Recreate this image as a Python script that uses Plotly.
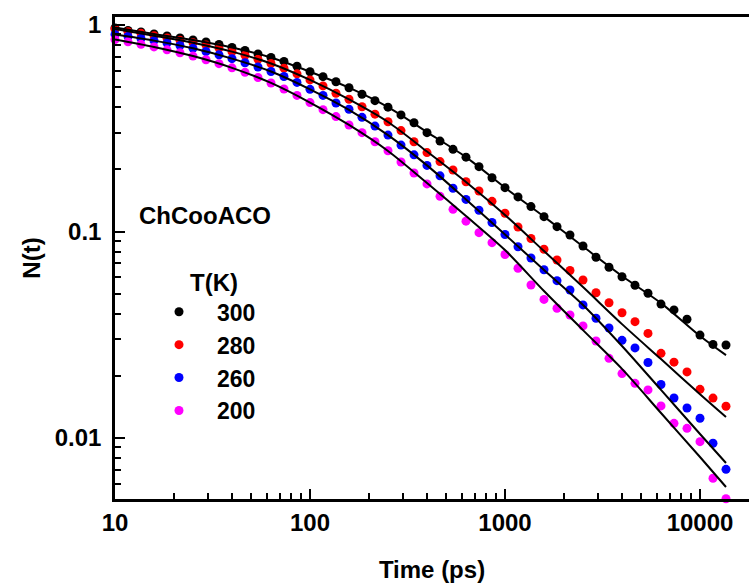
import plotly.graph_objects as go

# Time points (ps)
time_ps = [10.0, 11.66, 13.59, 15.85, 18.48, 21.54, 25.12, 29.29, 34.15, 39.81,
           46.42, 54.12, 63.10, 73.56, 85.77, 100.0, 116.6, 135.9, 158.5, 184.8,
           215.4, 251.2, 292.9, 341.5, 398.1, 464.2, 541.2, 631.0, 735.6, 857.7,
           1000, 1166, 1359, 1585, 1848, 2154, 2512, 2929, 3415, 3981,
           4642, 5412, 6310, 7356, 8577, 10000, 11659, 13594]

# Measured N(t) for each temperature
n_300 = [0.967, 0.940, 0.925, 0.905, 0.885, 0.865, 0.846, 0.827, 0.805, 0.778,
         0.752, 0.724, 0.696, 0.666, 0.631, 0.594, 0.562, 0.531, 0.497, 0.462,
         0.430, 0.400, 0.367, 0.336, 0.301, 0.274, 0.250, 0.229, 0.206, 0.182,
         0.163, 0.147, 0.132, 0.118, 0.1055, 0.0962, 0.0851, 0.0750, 0.0671, 0.0604,
         0.0549, 0.0502, 0.0445, 0.0417, 0.0376, 0.0315, 0.0284, 0.0282]
n_280 = [0.956, 0.928, 0.911, 0.888, 0.865, 0.843, 0.821, 0.799, 0.773, 0.743,
         0.714, 0.682, 0.651, 0.618, 0.580, 0.542, 0.507, 0.467, 0.437, 0.402,
         0.370, 0.340, 0.308, 0.272, 0.241, 0.218, 0.1986, 0.1742, 0.157, 0.140,
         0.1225, 0.1051, 0.0925, 0.0820, 0.0728, 0.0647, 0.0582, 0.0505, 0.0452, 0.0404,
         0.0366, 0.0321, 0.0257, 0.0233, 0.0209, 0.0172, 0.0156, 0.01424]
n_260 = [0.899, 0.880, 0.860, 0.840, 0.818, 0.796, 0.771, 0.744, 0.717, 0.687,
         0.656, 0.626, 0.595, 0.563, 0.527, 0.488, 0.456, 0.419, 0.391, 0.357,
         0.324, 0.293, 0.262, 0.235, 0.209, 0.186, 0.162, 0.143, 0.1267, 0.1106,
         0.0967, 0.0844, 0.0744, 0.0653, 0.0578, 0.0521, 0.0441, 0.0380, 0.0341, 0.0297,
         0.0273, 0.0232, 0.01816, 0.01562, 0.01397, 0.01246, 0.00943, 0.00705]
n_200 = [0.851, 0.829, 0.806, 0.783, 0.758, 0.734, 0.707, 0.679, 0.650, 0.620,
         0.590, 0.557, 0.524, 0.490, 0.456, 0.421, 0.389, 0.360, 0.328, 0.301,
         0.272, 0.246, 0.217, 0.192, 0.170, 0.148, 0.128, 0.1122, 0.0987, 0.0883,
         0.0774, 0.0664, 0.0551, 0.0469, 0.0425, 0.0394, 0.0349, 0.0295, 0.0243, 0.0205,
         0.0184, 0.0171, 0.0143, 0.01178, 0.01114, 0.00960, 0.00638, 0.00508]

# Fit curves
fit_time = [10.0, 15.85, 25.12, 39.81, 63.10, 100.0, 158.5, 251.2, 398.1, 631.0,
            1000, 1585, 2512, 3981, 6310, 10000, 13594]
fit_300 = [0.972, 0.905, 0.846, 0.778, 0.696, 0.594, 0.497, 0.400, 0.303, 0.229,
           0.163, 0.118, 0.0846, 0.0609, 0.0450, 0.0312, 0.0252]
fit_280 = [0.956, 0.888, 0.821, 0.743, 0.651, 0.542, 0.436, 0.339, 0.244, 0.1737,
           0.1202, 0.0804, 0.0538, 0.0356, 0.0241, 0.0163, 0.01264]
fit_260 = [0.899, 0.840, 0.771, 0.687, 0.595, 0.488, 0.388, 0.293, 0.209, 0.143,
           0.0967, 0.0651, 0.0441, 0.0279, 0.0171, 0.01046, 0.00757]
fit_200 = [0.851, 0.783, 0.707, 0.620, 0.524, 0.421, 0.328, 0.2454, 0.1717, 0.1189,
           0.0813, 0.0515, 0.0333, 0.0216, 0.01321, 0.00809, 0.00579]

labels = ["300", "280", "260", "200"]
colors = ["#000000", "#ff0000", "#0000ff", "#ff00ff"]
series = [n_300, n_280, n_260, n_200]
fits = [fit_300, fit_280, fit_260, fit_200]

FONT = "Liberation Sans, Arial, sans-serif"

fig = go.Figure()
for lab, col, ys in zip(labels, colors, series):
    fig.add_trace(go.Scatter(
        x=time_ps, y=ys, mode="markers", name=lab,
        marker=dict(color=col, size=9, line=dict(width=0)),
        cliponaxis=False,
    ))
for fy in fits:
    fig.add_trace(go.Scatter(
        x=fit_time, y=fy, mode="lines", showlegend=False,
        line=dict(color="black", width=2, shape="spline", smoothing=0.8),
    ))

minor_x = [v * m for v in (10, 100, 1000) for m in range(2, 10)]
minor_y = [v * m for v in (0.001, 0.01, 0.1) for m in range(2, 10)]

axis_font = dict(family=FONT, size=24, color="black", weight="bold")

fig.update_layout(
    width=749, height=587,
    margin=dict(l=115, r=0, t=17, b=88),
    paper_bgcolor="white", plot_bgcolor="white",
    showlegend=True,
    legend=dict(
        x=(141 - 115) / 634, y=0.433, xanchor="left", yanchor="top",
        font=dict(family=FONT, size=23, color="black", weight="bold"),
        bgcolor="rgba(0,0,0,0)", itemwidth=66, tracegroupgap=0,
    ),
    xaxis=dict(
        type="log", range=[1, 4.2513],
        tickvals=[10, 100, 1000, 10000], ticktext=["10", "100", "1000", "10000"],
        ticks="inside", ticklen=10, tickwidth=2, tickcolor="black",
        showline=True, linewidth=2.5, linecolor="black", mirror=True,
        showgrid=False, zeroline=False,
        tickfont=axis_font,
        minor=dict(tickvals=minor_x, ticks="inside", ticklen=6, tickwidth=2,
                   tickcolor="black", showgrid=False),
        title=dict(text="Time (ps)", font=axis_font, standoff=27),
    ),
    yaxis=dict(
        type="log", range=[-2.2954, 0.0387],
        tickvals=[0.01, 0.1, 1], ticktext=["0.01", "0.1", "1"],
        ticks="inside", ticklen=10, tickwidth=2, tickcolor="black",
        ticklabelstandoff=6,
        showline=True, linewidth=2.5, linecolor="black", mirror=False,
        showgrid=False, zeroline=False,
        tickfont=axis_font,
        minor=dict(tickvals=minor_y, ticks="inside", ticklen=6, tickwidth=2,
                   tickcolor="black", showgrid=False),
        title=dict(text="N(t)", font=axis_font, standoff=8),
    ),
    annotations=[
        dict(text="ChCooACO", xref="paper", yref="paper",
             x=(205 - 115) / 634, y=(499 - 215) / 482,
             xanchor="center", yanchor="middle",
             showarrow=False, font=dict(family=FONT, size=24, color="black", weight="bold")),
        dict(text="T(K)", xref="paper", yref="paper",
             x=(214 - 115) / 634, y=(499 - 282) / 482,
             xanchor="center", yanchor="middle",
             showarrow=False, font=dict(family=FONT, size=24, color="black", weight="bold")),
    ],
)

fig.write_html("out.html")
